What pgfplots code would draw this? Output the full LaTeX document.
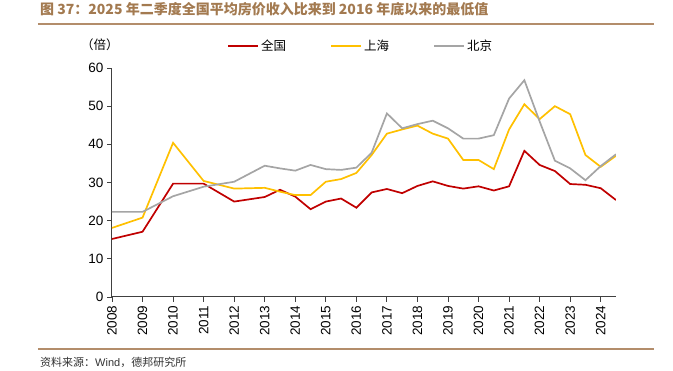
\documentclass[border=0pt]{standalone}
\usepackage{fontspec}
\setmainfont{Liberation Sans}
\newfontfamily\cjk{Noto Sans CJK SC}
\usepackage{pgfplots}
\pgfplotsset{compat=1.18}
\definecolor{cred}{HTML}{C00000}
\definecolor{cyel}{HTML}{FFC000}
\definecolor{cgray}{HTML}{A5A5A5}
\definecolor{ctitle}{HTML}{A37A50}
\definecolor{cline}{HTML}{B38D6B}
\definecolor{caxis}{HTML}{404040}
\begin{document}
\begin{tikzpicture}[x=1pt,y=1pt]
\useasboundingbox (-112,-74) rectangle (561,297);
\begin{axis}[
  at={(0,0)}, anchor=origin,
  scale only axis, width=504pt, height=229pt,
  xmin=2008, xmax=2024.5, ymin=0, ymax=60,
  axis x line*=bottom, axis y line*=left,
  axis line style={caxis, line width=1pt},
  xtick={2008,2009,...,2024},
  ytick={0,10,...,60},
  x tick label style={rotate=90, anchor=east, font=\fontsize{13.5}{13.5}\selectfont},
  y tick label style={font=\fontsize{13.5}{13.5}\selectfont},
  xticklabel={\pgfmathprintnumber[precision=0,1000 sep={}]{\tick}},
  /pgf/number format/assume math mode=true,
  tick style={caxis, line width=0.8pt},
  major tick length=5pt,
  tick align=outside,
  legend style={draw=none, fill=none, at={(rel axis cs:0.222,1.14)}, anchor=north west,
    font=\cjk\fontsize{12.5}{12.5}\selectfont, legend columns=3,
    /tikz/every even column/.append style={column sep=42pt}},
  legend image code/.code={\draw[#1, line width=2pt] (0pt,0pt) -- (30pt,0pt);},
  every axis plot/.append style={line width=1.7pt, mark=none},
]
\addplot[cred] coordinates {
(2008,15.2)(2009,17.1)(2010,29.7)(2011,29.7)(2012,25.0)(2013,26.2)(2013.5,28.1)
(2014,26.3)(2014.5,23.0)(2015,25.0)(2015.5,25.8)(2016,23.4)(2016.5,27.4)(2017,28.3)
(2017.5,27.2)(2018,29.1)(2018.5,30.3)(2019,29.1)(2019.5,28.4)(2020,29.0)(2020.5,27.9)
(2021,29.0)(2021.5,38.3)(2022,34.6)(2022.5,33.0)(2023,29.6)(2023.5,29.4)(2024,28.5)(2024.5,25.4)};
\addlegendentry{全国}
\addplot[cyel] coordinates {
(2008,18.1)(2009,20.8)(2010,40.4)(2011,30.4)(2012,28.4)(2013,28.6)(2013.5,27.6)
(2014,26.7)(2014.5,26.7)(2015,30.2)(2015.5,30.9)(2016,32.5)(2016.5,37.2)(2017,42.8)
(2017.5,43.9)(2018,44.9)(2018.5,42.8)(2019,41.5)(2019.5,35.9)(2020,35.9)(2020.5,33.5)
(2021,43.9)(2021.5,50.5)(2022,46.6)(2022.5,50.0)(2023,47.9)(2023.5,37.2)(2024,34.1)(2024.5,37.0)};
\addlegendentry{上海}
\addplot[cgray] coordinates {
(2008,22.3)(2009,22.3)(2010,26.4)(2011,28.9)(2012,30.2)(2013,34.4)(2013.5,33.7)
(2014,33.1)(2014.5,34.6)(2015,33.5)(2015.5,33.3)(2016,33.9)(2016.5,37.8)(2017,48.1)
(2017.5,44.2)(2018,45.3)(2018.5,46.2)(2019,44.2)(2019.5,41.5)(2020,41.5)(2020.5,42.4)
(2021,52.0)(2021.5,56.8)(2022,46.0)(2022.5,35.7)(2023,33.7)(2023.5,30.6)(2024,34.3)(2024.5,37.4)};
\addlegendentry{北京}
\end{axis}
\node[anchor=west, text=ctitle, font=\cjk\bfseries\fontsize{14}{14}\selectfont, inner sep=0pt] at (-72,287.5) {图 37：2025 年二季度全国平均房价收入比来到 2016 年底以来的最低值};
\draw[cline, line width=2pt] (-74,273) -- (542,273);
\node[font=\cjk\fontsize{12.5}{12.5}\selectfont, inner sep=0pt] at (-12,252) {（倍）};
\draw[cline, line width=1.2pt] (-74,-52) -- (542,-52);
\node[anchor=west, text=black!80, font=\fontsize{11}{11}\selectfont, inner sep=0pt] at (-72,-65) {{\cjk 资料来源：}Wind{\cjk ，德邦研究所}};
\end{tikzpicture}
\end{document}
